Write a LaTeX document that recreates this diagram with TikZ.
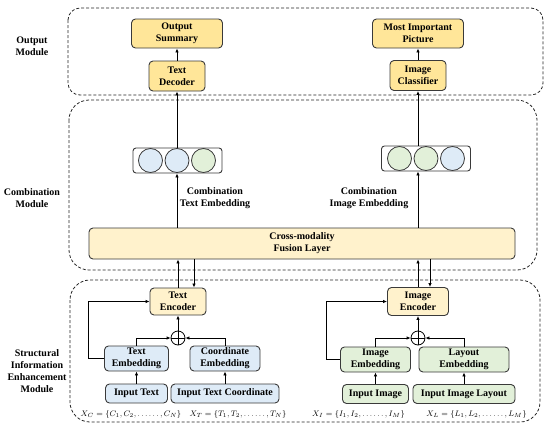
\documentclass[tikz,border=0pt]{standalone}
\usepackage{fontspec}
\setmainfont{Liberation Serif}
\usepackage{tikz}
\usetikzlibrary{arrows.meta}

\definecolor{gold}{HTML}{FFE699}
\definecolor{cream}{HTML}{FFF2CC}
\definecolor{lblue}{HTML}{DEEBF7}
\definecolor{lgreen}{HTML}{E2F0D9}
\definecolor{edge}{HTML}{3A3A3A}

\newcommand{\sixdots}{\mathinner{\ldotp\ldotp\ldotp\ldotp\ldotp\ldotp}}

\tikzset{
  box/.style={draw=edge, line width=0.9pt, rounded corners=4pt, align=center,
    font=\bfseries, inner sep=1pt, minimum height=#1},
  box/.default=25pt,
  module/.style={draw=black!85, line width=0.8pt, dash pattern=on 3pt off 2pt},
  modlabel/.style={align=center, font=\bfseries},
  formula/.style={font=\footnotesize, inner sep=0pt},
  unit/.style={circle, draw=edge, line width=0.8pt, minimum size=24pt, inner sep=0pt},
  vecbox/.style={draw=edge, line width=0.9pt, rounded corners=3pt, minimum width=89pt, minimum height=25pt},
  plus/.style={circle, draw=black, line width=0.8pt, minimum size=14pt, inner sep=0pt},
  link/.style={line width=1pt, -{Latex[length=4pt,width=3.5pt]}}
}

\begin{document}
\begin{tikzpicture}[x=1pt, y=-1pt]
\useasboundingbox (0,0) rectangle (550,429);

% dashed module frames
\draw[module, rounded corners=12pt] (68,8) rectangle (543,95);
\draw[module, rounded corners=20pt] (69,100) rectangle (537,270);
\draw[module, rounded corners=20pt] (70,280) rectangle (540,422);

\node[modlabel] (outmod) at (32,46) {Output\\Module};
\node[modlabel] (combmod) at (32,198.5) {Combination\\Module};
\node[modlabel] (structmod) at (37,371) {Structural\\Information\\Enhancement\\Module};

% output module
\node[box=29pt, fill=gold, minimum width=91pt] (outsum) at (177,33.5) {Output\\Summary};
\node[box=30pt, fill=gold, minimum width=56pt] (txtdec) at (177,76) {Text\\Decoder};
\node[box=29pt, fill=gold, minimum width=91pt] (mostimp) at (418,33.5) {Most Important\\Picture};
\node[box=30pt, fill=gold, minimum width=56pt] (imgcls) at (418,75.5) {Image\\Classifier};

% combination module
\node[vecbox] (txtvec) at (177.5,160.5) {};
\node[unit, fill=lblue] (tc1) at (150.5,160.5) {};
\node[unit, fill=lblue] (tc2) at (177,160.5) {};
\node[unit, fill=lgreen] (tc3) at (203.5,160.5) {};
\node[vecbox] (imgvec) at (426,158.5) {};
\node[unit, fill=lgreen] (ic1) at (399.5,158.5) {};
\node[unit, fill=lgreen] (ic2) at (426,158.5) {};
\node[unit, fill=lblue] (ic3) at (452.5,158.5) {};

\node[modlabel] (txtlbl) at (215,198.5) {Combination\\Text Embedding};
\node[modlabel] (imglbl) at (369,198.5) {Combination\\Image Embedding};

\node[box=31pt, fill=cream, minimum width=426pt] (fusion) at (302,243.5) {Cross-modality\\Fusion Layer};

% structural information enhancement module
\node[box=27pt, fill=cream, minimum width=56pt] (txtenc) at (178,301.5) {Text\\Encoder};
\node[box=28pt, fill=cream, minimum width=61pt] (imgenc) at (418,301.5) {Image\\Encoder};
\node[plus] (tplus) at (178,338) {};
\node[plus] (iplus) at (418,338) {};
\draw[line width=0.8pt] (tplus.north) -- (tplus.south) (tplus.west) -- (tplus.east);
\draw[line width=0.8pt] (iplus.north) -- (iplus.south) (iplus.west) -- (iplus.east);

\node[box, fill=lblue, minimum width=64pt] (txtemb) at (136.5,358.5) {Text\\Embedding};
\node[box, fill=lblue, minimum width=70pt] (cooremb) at (225,358.5) {Coordinate\\Embedding};
\node[box, fill=lgreen, minimum width=70pt] (imgemb) at (375.5,359.5) {Image\\Embedding};
\node[box, fill=lgreen, minimum width=90pt] (layemb) at (464,359.5) {Layout\\Embedding};

\node[box=19pt, fill=lblue, minimum width=62pt] (intxt) at (136.5,393.5) {Input Text};
\node[box=19pt, fill=lblue, minimum width=108pt] (incoord) at (225,393.5) {Input Text Coordinate};
\node[box=19pt, fill=lgreen, minimum width=66pt] (inimg) at (375.5,394) {Input Image};
\node[box=19pt, fill=lgreen, minimum width=102pt] (inlay) at (464,394) {Input Image Layout};

\node[formula] (xc) at (131,414.5) {$X_C=\{C_1,C_2,\sixdots,C_N\}$};
\node[formula] (xt) at (238,414.5) {$X_T=\{T_1,T_2,\sixdots,T_N\}$};
\node[formula] (xi) at (358.5,414) {$X_I=\{I_1,I_2,\sixdots,I_M\}$};
\node[formula] (xl) at (476.5,414) {$X_L=\{L_1,L_2,\sixdots,L_M\}$};

% connectors
\draw[link] (intxt) -- (txtemb);
\draw[link] (incoord) -- (cooremb);
\draw[link] (inimg) -- (imgemb);
\draw[link] (inlay) -- (layemb);
\draw[link] (txtemb.north) |- (tplus.west);
\draw[link] (cooremb.north) |- (tplus.east);
\draw[link] (imgemb.north) |- (iplus.west);
\draw[link] (layemb.north) |- (iplus.east);
\draw[link] (tplus) -- (txtenc);
\draw[link] (iplus) -- (imgenc);
\draw[link] (txtemb.west) -- ++(-16,0) |- (txtenc.west);
\draw[link] (imgemb.west) -- ++(-14,0) |- (imgenc.west);

\draw[link] (txtenc.north) -- (txtenc.north |- fusion.south);
\draw[link] ([xshift=16pt]txtenc.north |- fusion.south) -- ([xshift=16pt]txtenc.north);
\draw[link] (imgenc.north) -- (imgenc.north |- fusion.south);
\draw[link] ([xshift=12pt]imgenc.north |- fusion.south) -- ([xshift=12pt]imgenc.north);

\draw[link] (txtdec.south |- fusion.north) -- (txtdec.south |- txtvec.south);
\draw[link] (imgcls.south |- fusion.north) -- (imgcls.south |- imgvec.south);
\draw[link] (txtdec.south |- txtvec.north) -- (txtdec.south);
\draw[link] (imgcls.south |- imgvec.north) -- (imgcls.south);
\draw[link] (txtdec) -- (outsum);
\draw[link] (imgcls) -- (mostimp);
\end{tikzpicture}
\end{document}
